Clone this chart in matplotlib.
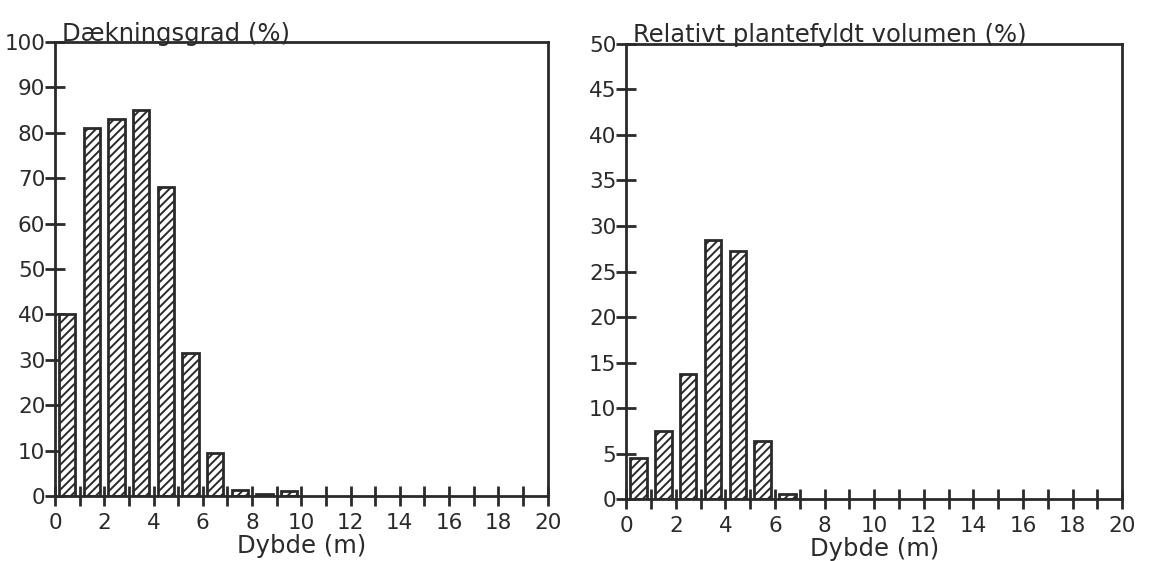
import matplotlib
matplotlib.use("Agg")
import matplotlib.pyplot as plt
import numpy as np

plt.rcParams['font.family'] = ['DejaVu Sans']
plt.rcParams['hatch.linewidth'] = 1.4

# Depth intervals (m): each bar covers one metre, starting at these depths
depth_left = [0, 1, 2, 3, 4, 5, 6, 7, 8, 9]
cover = [40, 81, 83, 85, 68, 31.5, 9.5, 1.2, 0.5, 1.0]

depth_right = [0, 1, 2, 3, 4, 5, 6]
volume = [4.5, 7.5, 13.7, 28.5, 27.2, 6.4, 0.6]

x_ticks = list(range(0, 21, 2))
left_yticks = list(range(0, 101, 10))
right_yticks = list(range(0, 51, 5))

fig = plt.figure(figsize=(11.51, 5.61), dpi=100)
ax1 = fig.add_axes([0.0478, 0.116, 0.428, 0.809])
ax2 = fig.add_axes([0.544, 0.110, 0.431, 0.812])

ink = '#2a2a2a'
tick_fs = 15.5
title_fs = 17.5


def style(ax, yticks, ymax, title):
    ax.set_xlim(0, 20)
    ax.set_ylim(0, ymax)
    ax.set_xticks(x_ticks)
    ax.set_xticks(range(0, 21), minor=True)
    ax.set_yticks(yticks)
    for s in ax.spines.values():
        s.set_linewidth(2)
        s.set_color(ink)
    ax.tick_params(axis='x', which='both', direction='inout', length=14,
                   width=2, color=ink, labelsize=tick_fs, pad=5, labelcolor=ink)
    ax.tick_params(axis='y', which='major', direction='inout', length=14,
                   width=2, color=ink, labelsize=tick_fs, pad=0, labelcolor=ink)
    ax.set_xlabel('Dybde (m)', fontsize=title_fs, color=ink, labelpad=1)
    ax.text(0.014, 1.003, title, transform=ax.transAxes, ha='left',
            va='baseline', fontsize=title_fs, color=ink)


def bars(ax, depths, values):
    centers = np.asarray(depths) + 0.5
    ax.bar(centers, values, width=0.66, facecolor='white', edgecolor=ink,
           linewidth=2, hatch='////', zorder=2)


bars(ax1, depth_left, cover)
style(ax1, left_yticks, 100, 'Dækningsgrad (%)')

bars(ax2, depth_right, volume)
style(ax2, right_yticks, 50, 'Relativt plantefyldt volumen (%)')

fig.savefig('out.png', dpi=100)
